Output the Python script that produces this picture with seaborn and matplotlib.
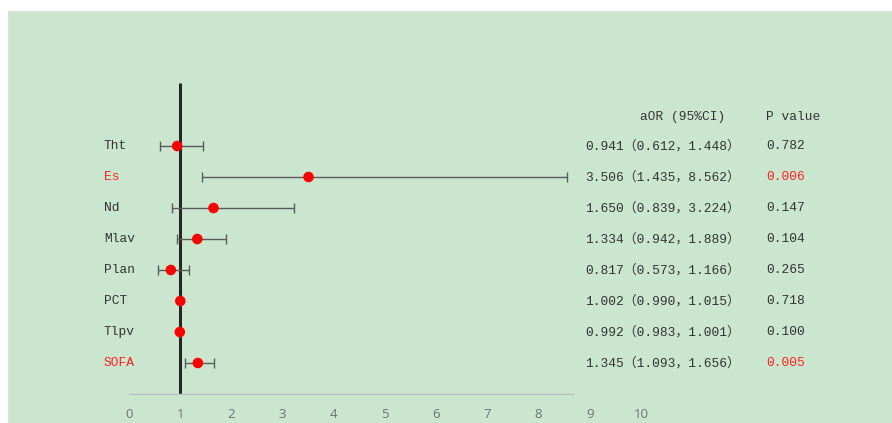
import matplotlib
matplotlib.use("Agg")
import matplotlib.pyplot as plt
import seaborn as sns
import pandas as pd
import numpy as np

# Adjusted odds ratios with 95% confidence intervals
variables = ["Tht", "Es", "Nd", "Mlav", "Plan", "PCT", "Tlpv", "SOFA"]
aor = [0.941, 3.506, 1.650, 1.334, 0.817, 1.002, 0.992, 1.345]
ci_low = [0.612, 1.435, 0.839, 0.942, 0.573, 0.990, 0.983, 1.093]
ci_high = [1.448, 8.562, 3.224, 1.889, 1.166, 1.015, 1.001, 1.656]
p_values = ["0.782", "0.006", "0.147", "0.104", "0.265", "0.718", "0.100", "0.005"]
x_ticks = list(range(0, 11))

df = pd.DataFrame({"var": variables, "aor": aor, "lo": ci_low, "hi": ci_high, "p": p_values})
df["row"] = np.arange(len(df))
df["sig"] = df["p"].astype(float) < 0.05

sns.set_theme(style="white")
BG = "#cbe6cf"
MONO = ["Liberation Mono", "Noto Sans CJK SC"]
TXT = "#333333"
RED = "#ff2020"
FS = 9.3

W, H = 892, 423
fig = plt.figure(figsize=(W / 100, H / 100), dpi=100, facecolor="white")
# green panel
fig.patches.append(plt.Rectangle((8 / W, 0), 1 - 8 / W, 1 - 11 / H, transform=fig.transFigure,
                                 facecolor=BG, edgecolor="#dcdcdc", lw=0.6, zorder=-10))

px_unit = 51.2
x0_px, x1_px = 129, 884
ax = fig.add_axes([x0_px / W, 0, (x1_px - x0_px) / W, 1 - 11 / H])
ax.set_facecolor("none")
ax.set_zorder(5)
row_px = 31.0
first_px = 146
ax.set_xlim(0, (x1_px - x0_px) / px_unit)
ax.set_ylim((H - first_px) / row_px, (11 - first_px) / row_px)

# confidence interval whiskers
ax.errorbar(df["aor"], df["row"], xerr=[df["aor"] - df["lo"], df["hi"] - df["aor"]],
            fmt="none", ecolor="#5a5a5a", elinewidth=1.0, capsize=3.5, capthick=1.0, zorder=2)
# reference line at OR = 1
ax.plot([1, 1], [-2.03, 8.0], color="#262626", lw=2.2, zorder=1, solid_capstyle="butt")
# point estimates
sns.scatterplot(data=df, x="aor", y="row", color="#ff0000", s=58, edgecolor="none",
                zorder=3, ax=ax, legend=False)

ax.set_xlabel("")
ax.set_ylabel("")
for s in ["top", "right", "left"]:
    ax.spines[s].set_visible(False)
ax.spines["bottom"].set_position(("data", 8.0))
ax.spines["bottom"].set_bounds(0, (573 - x0_px) / px_unit)
ax.spines["bottom"].set_color("#c0c0c0")
ax.spines["bottom"].set_linewidth(1.0)

ax.set_yticks([])
ax.set_xticks(x_ticks)
ax.set_xticklabels([str(t) for t in x_ticks])
ax.tick_params(axis="x", length=0, pad=10, labelsize=9.5, labelcolor="#707070")
for lab in ax.get_xticklabels():
    lab.set_family("Open Sans")

def px_to_x(px):
    return (px - x0_px) / px_unit

for _, r in df.iterrows():
    col = RED if r["sig"] else TXT
    ax.text(px_to_x(104), r["row"], r["var"], family=MONO, fontsize=FS, color=col,
            ha="left", va="center", clip_on=False)
    ax.text(px_to_x(585), r["row"], f"{r['aor']:.3f}（{r['lo']:.3f}，{r['hi']:.3f}）",
            family=MONO, fontsize=FS, color=TXT, ha="left", va="center")
    ax.text(px_to_x(766), r["row"], r["p"], family=MONO, fontsize=FS, color=col,
            ha="left", va="center")

ax.text(px_to_x(640), -0.95, "aOR (95%CI)", family=MONO, fontsize=FS, color=TXT,
        ha="left", va="center")
ax.text(px_to_x(766), -0.95, "P value", family=MONO, fontsize=FS, color=TXT,
        ha="left", va="center")

fig.savefig("out.png", dpi=100, facecolor="white")
